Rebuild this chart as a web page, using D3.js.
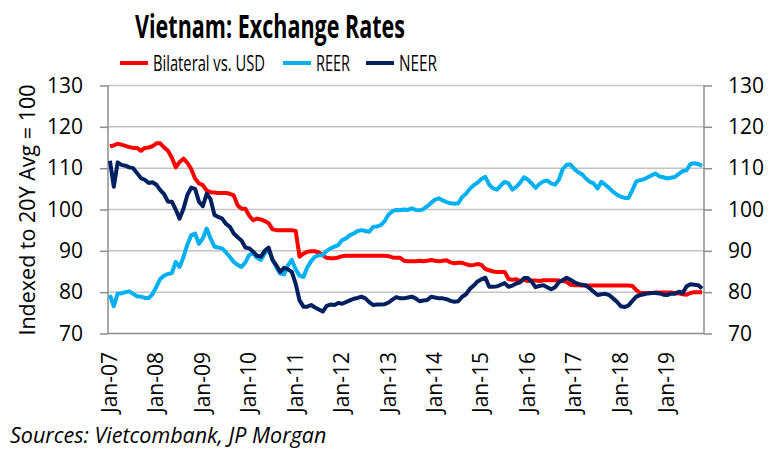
<!DOCTYPE html>
<html>
<head>
<meta charset="utf-8">
<script src="https://cdn.jsdelivr.net/npm/d3@7"></script>
<style>
  html, body { margin: 0; padding: 0; background: #fff; }
  svg { display: block; font-family: "Open Sans", sans-serif; }
</style>
</head>
<body>
<svg id="chart" width="776" height="450"></svg>
<script>
// monthly, Jan-07 .. Oct-19 (one row per year)
const bilateral = [
  115.3, 115.5, 115.9, 115.7, 115.4, 115.1, 114.9, 114.9, 114.2, 114.9, 115.0, 115.3,
  116.0, 116.0, 115.0, 114.2, 112.5, 110.2, 111.5, 112.3, 111.3, 109.8, 107.5, 106.3,
  105.9, 104.6, 104.2, 104.1, 104.0, 104.0, 104.0, 103.8, 103.4, 101.0, 100.2, 100.2,
  98.5, 97.4, 97.8, 97.6, 97.2, 96.7, 95.2, 95.0, 95.0, 95.0, 95.0, 95.0,
  94.8, 88.6, 89.3, 89.8, 89.9, 89.9, 89.6, 88.9, 88.3, 88.2, 88.2, 88.4,
  88.7, 88.8, 88.8, 88.8, 88.8, 88.8, 88.8, 88.8, 88.8, 88.8, 88.8, 88.8,
  88.7, 88.4, 88.3, 88.3, 87.6, 87.5, 87.5, 87.5, 87.6, 87.5, 87.6, 87.8,
  87.6, 87.5, 87.6, 87.7, 87.2, 87.0, 87.1, 87.1, 86.8, 86.5, 86.6, 86.8,
  86.6, 85.6, 85.3, 85.0, 84.9, 84.9, 84.9, 83.2, 83.0, 83.1, 82.7, 83.0,
  82.7, 82.8, 82.8, 82.7, 82.9, 82.9, 82.9, 82.9, 82.8, 82.7, 82.5, 81.8,
  81.7, 81.7, 81.6, 81.6, 81.6, 81.6, 81.6, 81.6, 81.6, 81.6, 81.6, 81.6,
  81.6, 81.6, 81.6, 81.5, 80.5, 79.8, 79.8, 79.8, 79.8, 79.9, 79.9, 79.9,
  79.9, 79.9, 79.8, 79.7, 79.5, 79.4, 79.8, 80.0, 80.0, 80.0
];
const reer = [
  79.3, 76.6, 79.7, 79.7, 80.0, 80.2, 79.6, 79.0, 78.9, 78.6, 78.6, 79.5,
  81.3, 83.2, 84.0, 84.4, 84.6, 87.3, 86.1, 88.5, 91.5, 93.8, 94.2, 91.7,
  93.0, 95.4, 93.0, 91.0, 90.8, 90.6, 89.6, 88.5, 87.3, 86.6, 86.1, 87.2,
  89.0, 89.4, 88.3, 87.8, 89.4, 90.2, 88.0, 86.0, 84.5, 84.3, 86.5, 87.8,
  85.5, 84.0, 83.7, 86.0, 87.5, 88.6, 88.9, 89.0, 90.0, 90.6, 91.0, 91.4,
  92.6, 93.0, 93.8, 94.2, 94.8, 95.0, 94.8, 94.6, 95.8, 95.9, 96.2, 97.2,
  98.8, 99.6, 99.9, 99.8, 100.0, 99.9, 100.3, 99.9, 99.8, 100.1, 100.8, 101.6,
  102.4, 102.7, 102.2, 101.8, 101.5, 101.4, 101.5, 103.0, 103.8, 105.0, 105.9, 106.5,
  107.4, 107.9, 106.0, 105.1, 104.8, 105.8, 106.7, 106.3, 104.8, 105.5, 106.5, 107.8,
  107.2, 106.3, 105.2, 106.2, 106.8, 107.0, 106.3, 106.0, 107.2, 109.8, 110.8, 110.9,
  109.8, 109.0, 108.5, 107.5, 106.7, 106.3, 105.1, 106.7, 106.0, 105.2, 104.3, 103.6,
  103.1, 102.8, 102.8, 104.7, 106.8, 107.1, 107.3, 107.8, 108.3, 108.7, 108.0, 107.8,
  107.5, 107.7, 107.9, 108.6, 109.3, 109.5, 111.0, 111.2, 111.0, 110.5
];
const neer = [
  111.8, 105.5, 111.4, 110.8, 110.6, 110.2, 110.0, 108.8, 107.6, 107.2, 106.4, 106.6,
  106.0, 104.7, 103.7, 101.9, 101.9, 100.0, 97.8, 100.2, 103.5, 105.3, 105.0, 101.9,
  100.8, 103.8, 102.5, 98.7, 98.2, 97.8, 96.5, 95.8, 94.2, 93.3, 92.5, 90.8,
  90.6, 89.8, 88.8, 88.6, 90.0, 90.8, 87.8, 86.5, 84.9, 85.9, 85.5, 84.9,
  82.0, 78.0, 76.5, 76.5, 76.9, 76.3, 75.8, 75.3, 76.7, 77.0, 76.9, 77.4,
  77.2, 77.6, 78.0, 78.4, 78.6, 78.9, 78.5, 77.6, 76.9, 77.0, 77.0, 77.1,
  77.5, 78.2, 78.8, 78.5, 78.5, 78.7, 78.9, 78.5, 77.8, 78.0, 78.1, 78.9,
  78.7, 78.5, 78.5, 78.3, 77.9, 77.7, 77.8, 78.9, 79.5, 80.8, 81.6, 82.6,
  83.1, 83.5, 81.3, 81.3, 81.4, 81.8, 82.2, 81.3, 81.6, 82.1, 82.4, 83.4,
  83.4, 82.5, 81.2, 81.5, 81.7, 81.2, 80.7, 81.2, 82.4, 82.9, 83.5, 83.0,
  82.4, 82.0, 81.8, 81.6, 80.9, 80.1, 79.3, 79.5, 79.6, 79.3, 78.5, 77.7,
  76.6, 76.4, 76.8, 77.9, 78.9, 79.3, 79.5, 79.7, 79.8, 79.8, 79.7, 79.4,
  79.3, 79.7, 79.6, 80.1, 79.8, 81.4, 81.9, 81.8, 81.7, 80.9
];

const xTickLabels = ['Jan-07', 'Jan-08', 'Jan-09', 'Jan-10', 'Jan-11', 'Jan-12', 'Jan-13',
  'Jan-14', 'Jan-15', 'Jan-16', 'Jan-17', 'Jan-18', 'Jan-19'];
const yTicks = [70, 80, 90, 100, 110, 120, 130];

const seriesNames = ['Bilateral vs. USD', 'REER', 'NEER'];
const seriesColors = ['#FF0000', '#00B0F0', '#002060'];

const svg = d3.select('#chart');

const plot = { left: 108, right: 704, top: 85.5, bottom: 333.5 };

const x = d3.scaleLinear().domain([-0.5, bilateral.length - 0.5]).range([plot.left, plot.right]);
const y = d3.scaleLinear().domain([70, 130]).range([plot.bottom, plot.top]);

// Calibri is narrower than any installed font, so squeeze text horizontally to its width
const squeeze = (text, width, tx, ty, rot) => {
  const w = text.node().getComputedTextLength();
  const k = Math.min(1, width / w);
  text.attr('transform', `translate(${tx},${ty})${rot ? ' rotate(' + rot + ')' : ''} scale(${k},1)`);
  return text;
};

// gridlines
svg.append('g')
  .selectAll('line')
  .data(yTicks.slice(1))
  .join('line')
  .attr('x1', plot.left).attr('x2', plot.right)
  .attr('y1', d => y(d)).attr('y2', d => y(d))
  .attr('stroke', '#C4C4C4')
  .attr('stroke-width', 1.5);

// axes
const axisColor = '#8C8C8C';
const leftAxis = svg.append('g')
  .attr('transform', `translate(${plot.left},0)`)
  .call(d3.axisLeft(y).tickValues(yTicks).tickSize(8).tickPadding(17).tickFormat(d3.format('d')));
const rightAxis = svg.append('g')
  .attr('transform', `translate(${plot.right},0)`)
  .call(d3.axisRight(y).tickValues(yTicks).tickSize(8).tickPadding(16).tickFormat(d3.format('d')));

[leftAxis, rightAxis].forEach(a => {
  a.select('.domain').attr('stroke', axisColor).attr('stroke-width', 1.5).attr('d',
    `M0,${plot.top}V${plot.bottom}`);
  a.selectAll('.tick line').attr('stroke', axisColor).attr('stroke-width', 1.5);
  a.selectAll('.tick text')
    .attr('font-family', '"Open Sans", sans-serif')
    .attr('font-size', 21)
    .attr('fill', '#000');
});

svg.append('line')
  .attr('x1', plot.left).attr('x2', plot.right)
  .attr('y1', y(70)).attr('y2', y(70))
  .attr('stroke', axisColor).attr('stroke-width', 1.5);

// x labels, one per January
svg.append('g')
  .selectAll('text')
  .data(xTickLabels)
  .join('text')
  .attr('text-anchor', 'end')
  .attr('font-size', 21)
  .text(d => d)
  .each(function (d, i) {
    squeeze(d3.select(this), 64, x(i * 12) + 7, 352, -90);
  });

// series lines
const line = d3.line()
  .x((d, i) => x(i))
  .y(d => y(d));

[bilateral, reer, neer].forEach((s, k) => {
  svg.append('path')
    .datum(s)
    .attr('d', line)
    .attr('fill', 'none')
    .attr('stroke', seriesColors[k])
    .attr('stroke-width', 4)
    .attr('stroke-linejoin', 'round');
});

// title
squeeze(svg.append('text')
  .attr('text-anchor', 'middle')
  .attr('font-size', 33)
  .attr('font-weight', 'bold')
  .text('Vietnam: Exchange Rates'), 270, 270, 38);

// legend
const legendPos = [
  { x: 120, w: 112 },
  { x: 283, w: 34 },
  { x: 366, w: 38 }
];
const legend = svg.append('g');
seriesNames.forEach((name, k) => {
  const p = legendPos[k];
  legend.append('line')
    .attr('x1', p.x).attr('x2', p.x + 28)
    .attr('y1', 63).attr('y2', 63)
    .attr('stroke', seriesColors[k])
    .attr('stroke-width', 4);
  squeeze(legend.append('text')
    .attr('font-size', 22.5)
    .text(name), p.w, p.x + 33, 71);
});

// y axis title
squeeze(svg.append('text')
  .attr('text-anchor', 'middle')
  .attr('font-size', 21.5)
  .text('Indexed to 20Y Avg = 100'), 270, 35, 210, -90);

// source
squeeze(svg.append('text')
  .attr('font-size', 21.5)
  .attr('font-style', 'italic')
  .text('Sources: Vietcombank, JP Morgan'), 334, 10, 443);
</script>
</body>
</html>
